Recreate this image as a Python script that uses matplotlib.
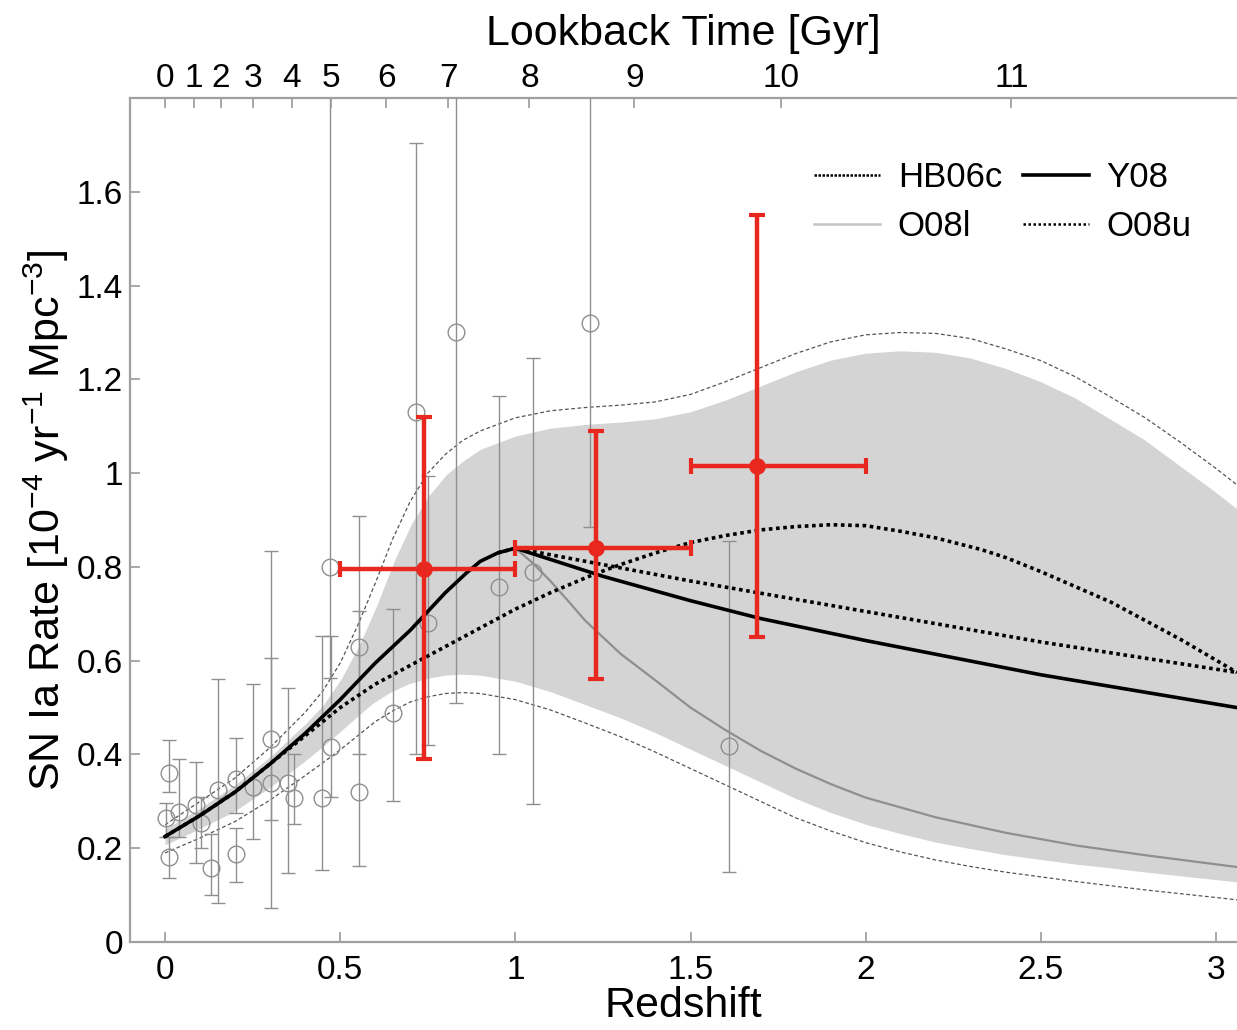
import numpy as np
import matplotlib.pyplot as plt
from matplotlib.lines import Line2D
from matplotlib.ticker import FuncFormatter

plt.rcParams['font.family'] = ['Liberation Sans', 'DejaVu Sans']
plt.rcParams['mathtext.fontset'] = 'custom'
plt.rcParams['mathtext.rm'] = 'Liberation Sans'
plt.rcParams['mathtext.default'] = 'regular'

#####################################################################################
# shaded range and its outer dashed envelope
band_z = [0.0, 0.1, 0.2, 0.3, 0.4, 0.45, 0.5, 0.55, 0.6, 0.65, 0.7, 0.75, 0.8, 0.85,
          0.9, 1.0, 1.1, 1.2, 1.3, 1.4, 1.5, 1.6, 1.7, 1.8, 1.9, 2.0, 2.1, 2.2, 2.3,
          2.4, 2.5, 2.6, 2.7, 2.8, 2.9, 3.0, 3.06]
band_hi = [0.245, 0.29, 0.34, 0.40, 0.47, 0.51, 0.565, 0.635, 0.72, 0.815, 0.895,
           0.955, 1.0, 1.03, 1.055, 1.083, 1.10, 1.108, 1.113, 1.12, 1.135, 1.16, 1.19,
           1.22, 1.245, 1.26, 1.265, 1.262, 1.25, 1.228, 1.20, 1.165, 1.12, 1.075, 1.02,
           0.965, 0.93]
band_lo = [0.20, 0.235, 0.272, 0.322, 0.378, 0.408, 0.44, 0.473, 0.505, 0.528, 0.545,
           0.556, 0.563, 0.565, 0.563, 0.55, 0.528, 0.50, 0.472, 0.44, 0.405, 0.37,
           0.335, 0.30, 0.27, 0.245, 0.225, 0.207, 0.193, 0.18, 0.17, 0.16, 0.152,
           0.143, 0.135, 0.127, 0.122]
env_hi = [0.25, 0.30, 0.35, 0.415, 0.49, 0.535, 0.595, 0.675, 0.765, 0.86, 0.94, 1.0,
          1.04, 1.07, 1.09, 1.118, 1.133, 1.14, 1.145, 1.152, 1.168, 1.195, 1.225,
          1.255, 1.28, 1.295, 1.30, 1.298, 1.287, 1.265, 1.24, 1.205, 1.162, 1.117,
          1.065, 1.01, 0.975]
env_lo = [0.19, 0.222, 0.257, 0.303, 0.355, 0.382, 0.41, 0.44, 0.47, 0.493, 0.512,
          0.523, 0.53, 0.532, 0.53, 0.517, 0.495, 0.467, 0.438, 0.405, 0.37, 0.335,
          0.30, 0.265, 0.237, 0.212, 0.192, 0.175, 0.161, 0.149, 0.139, 0.129, 0.12,
          0.111, 0.103, 0.095, 0.09]

# model curves
y08_z = [0.0, 0.1, 0.2, 0.3, 0.4, 0.5, 0.6, 0.7, 0.8, 0.86, 0.9, 0.95, 1.0, 1.25, 1.5,
         1.7, 2.0, 2.5, 3.06]
y08_r = [0.225, 0.27, 0.32, 0.38, 0.445, 0.517, 0.595, 0.665, 0.745, 0.787, 0.812,
         0.83, 0.84, 0.78, 0.728, 0.69, 0.643, 0.57, 0.50]

hb06c_z = [0.0, 0.1, 0.2, 0.3, 0.4, 0.5, 0.6, 0.75, 0.9, 1.0, 1.1, 1.22, 1.3, 1.4, 1.5,
           1.6, 1.7, 1.8, 1.9, 2.0, 2.1, 2.2, 2.33, 2.4, 2.5, 2.62, 2.7, 2.81, 2.9, 3.06]
hb06c_r = [0.225, 0.27, 0.32, 0.38, 0.44, 0.50, 0.55, 0.61, 0.67, 0.71, 0.745, 0.783,
           0.805, 0.83, 0.852, 0.867, 0.879, 0.886, 0.89, 0.888, 0.876, 0.862, 0.837,
           0.82, 0.79, 0.751, 0.725, 0.681, 0.645, 0.575]

o08l_z = [0.95, 1.0, 1.05, 1.1, 1.15, 1.2, 1.3, 1.4, 1.5, 1.6, 1.7, 1.8, 1.9, 2.0, 2.2,
          2.4, 2.6, 2.8, 3.06]
o08l_r = [0.83, 0.84, 0.808, 0.77, 0.728, 0.685, 0.615, 0.558, 0.50, 0.452, 0.408,
          0.37, 0.337, 0.308, 0.266, 0.233, 0.206, 0.185, 0.16]

o08u_z = [0.95, 1.0, 1.5, 2.0, 2.5, 3.06]
o08u_r = [0.83, 0.84, 0.77, 0.705, 0.64, 0.575]

# literature rates (grey open circles)
obs_z = [0.010, 0.003, 0.012, 0.041, 0.088, 0.103, 0.131, 0.150, 0.202, 0.202, 0.252,
         0.302, 0.302, 0.350, 0.368, 0.449, 0.471, 0.473, 0.554, 0.554, 0.650, 0.715,
         0.750, 0.830, 0.954, 1.050, 1.212, 1.610]
obs_r = [0.360, 0.264, 0.182, 0.278, 0.292, 0.254, 0.157, 0.324, 0.188, 0.348, 0.330,
         0.433, 0.339, 0.339, 0.308, 0.308, 0.800, 0.417, 0.630, 0.319, 0.489, 1.130,
         0.680, 1.300, 0.758, 0.790, 1.320, 0.418]
obs_lo = [0.321, 0.225, 0.137, 0.225, 0.168, 0.200, 0.100, 0.083, 0.127, 0.275, 0.220,
          0.072, 0.260, 0.147, 0.252, 0.154, 0.563, 0.310, 0.400, 0.163, 0.300, 0.400,
          0.420, 0.510, 0.400, 0.295, 0.886, 0.150]
obs_hi = [0.431, 0.297, 0.225, 0.390, 0.384, 0.310, 0.230, 0.560, 0.243, 0.435, 0.550,
          0.833, 0.605, 0.542, 0.400, 0.652, 2.000, 0.652, 0.908, 0.705, 0.710, 1.705,
          0.993, 2.000, 1.165, 1.246, 2.000, 0.856]

# this work (red)
red_z = [0.74, 1.23, 1.69]
red_r = [0.795, 0.84, 1.015]
red_zlo = [0.5, 1.0, 1.5]
red_zhi = [1.0, 1.5, 2.0]
red_lo = [0.39, 0.56, 0.65]
red_hi = [1.12, 1.09, 1.55]

# lookback time axis
lb_labels = ['0', '1', '2', '3', '4', '5', '6', '7', '8', '9', '10', '11']
lb_z = [0.0, 0.083, 0.160, 0.251, 0.362, 0.473, 0.632, 0.809, 1.040, 1.340, 1.758, 2.416]

#####################################################################################
fig = plt.figure(figsize=(12.37, 10.30), dpi=100)
ax = fig.add_axes([0.1051, 0.0854, 0.8949, 0.8194])

# ---------------------------------------------------------------------------
ax.fill_between(band_z, band_lo, band_hi, color='#d4d4d4', lw=0, zorder=1)
ax.plot(band_z, band_hi, color='white', lw=3.5, zorder=1.5)
ax.plot(band_z, band_lo, color='white', lw=3.5, zorder=1.5)
for env in (env_hi, env_lo):
    ax.plot(band_z, env, color='#555555', lw=0.9, dashes=(3, 2), zorder=1.6)

# ---------------------------------------------------------------------------
obs_r = np.array(obs_r)
yerr = [obs_r - np.array(obs_lo), np.array(obs_hi) - obs_r]
ax.errorbar(obs_z, obs_r, yerr=yerr, fmt='o', ms=12, mfc='none', mec='#8f8f8f',
            mew=1.0, ecolor='#8f8f8f', elinewidth=1.0, capsize=5, capthick=1.0,
            zorder=3)

# ---------------------------------------------------------------------------
ax.plot(o08l_z, o08l_r, color='#8f8f8f', lw=1.6, zorder=4)
ax.plot(hb06c_z, hb06c_r, color='black', lw=2.6, ls=(0, (1, 1)), zorder=4)
ax.plot(o08u_z, o08u_r, color='black', lw=2.6, ls=(0, (1, 1)), zorder=4)
ax.plot(y08_z, y08_r, color='black', lw=2.6, zorder=4.5)

# ---------------------------------------------------------------------------
red_r = np.array(red_r)
red_z = np.array(red_z)
ax.errorbar(red_z, red_r,
            xerr=[red_z - np.array(red_zlo), np.array(red_zhi) - red_z],
            yerr=[red_r - np.array(red_lo), np.array(red_hi) - red_r],
            fmt='o', ms=11, color='#e8281e', ecolor='#e8281e', elinewidth=3.2,
            capsize=6, capthick=3, zorder=6)

# ---------------------------------------------------------------------------
ax.set_xlim(-0.1, 3.06)
ax.set_ylim(0, 1.8)
ax.set_xticks([0, 0.5, 1, 1.5, 2, 2.5, 3])
ax.set_yticks([0, 0.2, 0.4, 0.6, 0.8, 1.0, 1.2, 1.4, 1.6])
fmt = FuncFormatter(lambda v, p: '%g' % v)
ax.xaxis.set_major_formatter(fmt)
ax.yaxis.set_major_formatter(fmt)
ax.tick_params(direction='in', length=7, width=1.2, color='#9a9a9a', labelsize=24,
               pad=5, top=False, right=False)
ax.tick_params(axis='x', pad=9)
for side in ('left', 'bottom', 'top'):
    ax.spines[side].set_color('#a0a0a0')
    ax.spines[side].set_linewidth(1.6)
ax.spines['right'].set_visible(False)

ax.set_xlabel('Redshift', fontsize=31, labelpad=0)
ax.set_ylabel('SN Ia Rate [10$^{-4}$ yr$^{-1}$ Mpc$^{-3}$]', fontsize=31, labelpad=4)

# ---------------------------------------------------------------------------
ax2 = ax.twiny()
ax2.set_xlim(ax.get_xlim())
ax2.set_xticks(lb_z)
ax2.set_xticklabels(lb_labels)
ax2.tick_params(direction='in', length=7, width=1.2, color='#9a9a9a', labelsize=24,
                pad=3)
for side in ax2.spines:
    ax2.spines[side].set_visible(False)
ax2.set_xlabel('Lookback Time [Gyr]', fontsize=31, labelpad=13)

# ---------------------------------------------------------------------------
handles = [
    Line2D([], [], color='black', lw=1.8, ls=(0, (1, 0.6))),
    Line2D([], [], color='#c4c4c4', lw=1.8),
    Line2D([], [], color='black', lw=2.6),
    Line2D([], [], color='black', lw=1.8, ls=(0, (1, 1))),
]
labels = ['HB06c', 'O08l', 'Y08', 'O08u']
ax.legend(handles, labels, ncol=2, loc='upper left', bbox_to_anchor=(0.59, 0.962),
          frameon=False, fontsize=25, handlelength=1.9, handletextpad=0.5,
          columnspacing=0.6, labelspacing=0.45)

fig.savefig('out.png', dpi=100)
